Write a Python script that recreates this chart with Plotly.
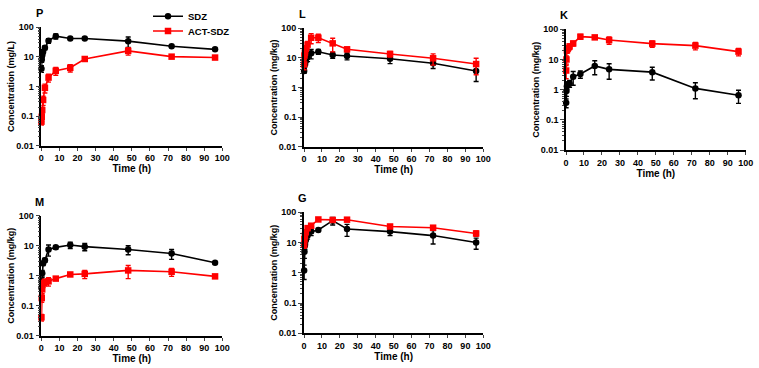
import plotly.graph_objects as go

W, H = 759, 368

# ---------------- data ----------------
time_h = [0.083, 0.25, 0.5, 1, 2, 4, 8, 16, 24, 48, 72, 96]
series_names = ["SDZ", "ACT-SDZ"]
x_ticks = [0, 10, 20, 30, 40, 50, 60, 70, 80, 90, 100]
y_tickvals = [0.01, 0.1, 1, 10, 100]
y_ticktext = ["0.01", "0.1", "1", "10", "100"]

panel_labels = ["P", "L", "K", "M", "G"]
panel_units = ["Concentration (mg/L)", "Concentration (mg/kg)", "Concentration (mg/kg)",
               "Concentration (mg/kg)", "Concentration (mg/kg)"]

P_sdz = [4.0, 8.1, 11.4, 14.8, 20.5, 35, 50, 42, 42, 34, 23, 18]
P_sdz_err = [1.0, 1.5, 2, 2, 3, 6, 10, 3, 3, 13, 2, 1.5]
P_act = [0.065, 0.095, 0.16, 0.35, 0.9, 2.0, 3.4, 4.3, 8.5, 16, 10.2, 9.5]
P_act_err = [0.015, 0.03, 0.04, 0.12, 0.3, 0.6, 1.0, 1.2, 0.8, 4.5, 1.0, 0.8]

L_sdz = [3.6, 5.5, 6.6, 7.9, 10.5, 14.3, 16.2, 12.6, 11.6, 9.4, 6.6, 3.6]
L_sdz_err = [0.6, 1, 1.2, 2, 3, 5, 3, 3, 3, 3, 2.2, 2.0]
L_act = [6, 12, 15, 20, 28, 48, 48, 31, 19.5, 13.6, 9.7, 6.2]
L_act_err = [2, 3, 4, 6, 8, 18, 15, 15, 3, 3, 4, 3.5]

K_sdz = [0.37, 0.9, 1.3, 1.5, 1.6, 2.7, 3.3, 6.1, 4.7, 3.8, 1.1, 0.65]
K_sdz_err = [0.12, 0.3, 0.3, 0.3, 0.4, 1.3, 0.9, 3.0, 2.5, 1.7, 0.6, 0.3]
K_act = [4.3, 10, 20, 23, 27, 34, 57, 54, 44, 33.5, 28.8, 18.2]
K_act_err = [2, 3, 4, 5, 6, 6, 10, 6, 12, 8, 8, 5]

M_sdz = [0.4, 0.65, 1.2, 2.6, 3.3, 7.5, 8.8, 10.5, 9.3, 7.5, 5.5, 2.7]
M_sdz_err = [0.1, 0.2, 0.3, 0.4, 0.5, 3, 1.2, 2.5, 2.5, 2.5, 2, 0.2]
M_act = [0.041, 0.18, 0.35, 0.55, 0.62, 0.65, 0.8, 1.1, 1.15, 1.5, 1.35, 0.95]
M_act_err = [0.01, 0.05, 0.1, 0.15, 0.15, 0.2, 0.08, 0.1, 0.35, 0.7, 0.4, 0.1]

G_sdz = [1.2, 5, 8, 12, 17, 23, 26, 53, 28, 23, 17, 10]
G_sdz_err = [0.6, 2, 2, 3, 4, 6, 3, 15, 12, 6, 8, 4]
G_act = [8.5, 13, 17, 22, 30, 36, 58, 56, 57, 34, 31, 20]
G_act_err = [2, 3, 4, 4, 5, 5, 6, 5, 6, 5, 5, 4]

panels_sdz = [P_sdz, L_sdz, K_sdz, M_sdz, G_sdz]
panels_sdz_err = [P_sdz_err, L_sdz_err, K_sdz_err, M_sdz_err, G_sdz_err]
panels_act = [P_act, L_act, K_act, M_act, G_act]
panels_act_err = [P_act_err, L_act_err, K_act_err, M_act_err, G_act_err]

# ---------------- layout geometry (pixels) ----------------
# (left, right, top, bottom) of each plotting area
boxes = [
    (41.3, 222.3, 27.3, 145.7),
    (304.0, 483.3, 28.3, 146.7),
    (566.0, 745.7, 29.3, 150.0),
    (41.3, 222.3, 215.7, 335.7),
    (304.0, 483.3, 212.3, 333.3),
]

FONT = "Liberation Sans"
colors = ["#000000", "#FF0000"]
symbols = ["circle", "square"]
legend_ids = ["legend", "legend2"]

fig = go.Figure()

for i in range(5):
    xa = "x" if i == 0 else f"x{i+1}"
    ya = "y" if i == 0 else f"y{i+1}"
    for s, (vals, errs) in enumerate([(panels_sdz[i], panels_sdz_err[i]),
                                      (panels_act[i], panels_act_err[i])]):
        fig.add_trace(go.Scatter(
            x=time_h, y=vals, xaxis=xa, yaxis=ya,
            mode="lines+markers",
            name=series_names[s],
            showlegend=(i == 0),
            legend=legend_ids[s],
            line=dict(color=colors[s], width=1.6),
            marker=dict(color=colors[s], symbol=symbols[s], size=6.5),
            error_y=dict(type="data", array=errs, color=colors[s],
                         thickness=1.4, width=2.5),
            cliponaxis=False,
        ))

legend_font = dict(family=FONT, size=9.5, color="black", weight="bold")
layout = dict(
    width=W, height=H,
    margin=dict(l=0, r=0, t=0, b=0, autoexpand=False),
    paper_bgcolor="white", plot_bgcolor="white",
    font=dict(family=FONT, size=9, color="black", weight="bold"),
    showlegend=True,
    legend=dict(x=148 / W, y=1 - 16.3 / H, xanchor="left", yanchor="middle",
                font=legend_font, bgcolor="rgba(0,0,0,0)", itemwidth=30),
    legend2=dict(x=148 / W, y=1 - 31 / H, xanchor="left", yanchor="middle",
                 font=legend_font, bgcolor="rgba(0,0,0,0)", itemwidth=30),
)

annotations = []
for i, (l, r, t, b) in enumerate(boxes):
    xkey = "xaxis" if i == 0 else f"xaxis{i+1}"
    ykey = "yaxis" if i == 0 else f"yaxis{i+1}"
    xa = "x" if i == 0 else f"x{i+1}"
    ya = "y" if i == 0 else f"y{i+1}"
    layout[xkey] = dict(
        domain=[l / W, r / W], anchor=ya, range=[0, 100], automargin=False,
        tickvals=x_ticks, ticks="outside", ticklen=3, tickwidth=1.4,
        showline=True, linecolor="black", linewidth=1.6,
        showgrid=False, zeroline=False,
        tickfont=dict(family=FONT, size=9, color="black", weight="bold"),
        title=dict(text="Time (h)", standoff=3,
                   font=dict(family=FONT, size=10, color="black", weight="bold")),
    )
    layout[ykey] = dict(
        domain=[1 - b / H, 1 - t / H], anchor=xa, type="log", range=[-2, 2],
        automargin=False,
        tickvals=y_tickvals, ticktext=y_ticktext,
        ticks="outside", ticklen=4, tickwidth=1.4,
        minor=dict(ticks="outside", ticklen=2, tickwidth=1, dtick="D1", showgrid=False),
        showline=True, linecolor="black", linewidth=1.6,
        showgrid=False, zeroline=False,
        tickfont=dict(family=FONT, size=9, color="black", weight="bold"),
        title=dict(text=panel_units[i], standoff=0,
                   font=dict(family=FONT, size=9, color="black", weight="bold")),
    )
    annotations.append(dict(
        text=f"<b>{panel_labels[i]}</b>", xref="paper", yref="paper",
        x=(l - 2) / W, y=1 - (t - 14) / H, xanchor="center", yanchor="middle",
        showarrow=False, font=dict(family=FONT, size=11, color="black"),
    ))

layout["annotations"] = annotations
fig.update_layout(**layout)
fig.write_html("out.html",
               config={"displayModeBar": False},
               post_script="document.body.style.margin='0';document.body.style.overflow='hidden';")
